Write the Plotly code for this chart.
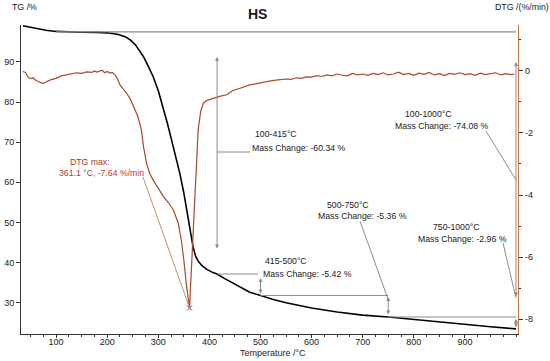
import plotly.graph_objects as go

# ---------------- data ----------------
T_tg = [35, 50, 65, 80, 100, 120, 150, 180, 200, 220, 235, 245, 255, 262, 271, 280, 290,
        300, 309, 318, 326, 334, 342, 350, 358, 363, 368, 373, 378, 385, 395, 407, 415,
        430, 446, 460, 479, 500, 525, 550, 575, 600, 650, 700, 750, 800, 850, 900, 950, 1000]
tg = [99.0, 98.6, 98.2, 97.9, 97.6, 97.45, 97.4, 97.35, 97.25, 96.9, 96.3, 95.5, 94.3, 93.0,
      91.3, 89.0, 86.3, 82.8, 78.9, 74.6, 70.5, 66.4, 62.3, 57.3, 51.4, 47.5, 43.9, 41.6,
      40.4, 39.3, 38.3, 37.5, 37.16, 36.0, 34.9, 33.8, 32.6, 31.8, 30.8, 30.0, 29.3, 28.7,
      27.7, 26.9, 26.44, 25.8, 25.2, 24.6, 24.0, 23.48]

T_dtg = [35, 40, 45, 50, 55, 60, 70, 75, 80, 90, 100, 110, 120, 130, 140, 150, 160, 170, 175,
         180, 190, 195, 200, 205, 210, 215, 220, 225, 230, 238, 245, 251, 260, 267, 271, 277,
         283, 290, 300, 310, 320, 330, 339, 345, 350, 355, 361.1, 365, 368, 372, 375, 378,
         383, 388, 395, 408, 420, 434, 445, 460, 470, 479, 490, 500, 510, 520, 530, 540, 550,
         560, 570, 580, 590, 600, 610, 620, 630, 640, 650, 660, 670, 680, 690, 700, 710, 720,
         730, 740, 750, 760, 770, 780, 790, 800, 810, 820, 830, 840, 850, 860, 870, 880, 890,
         900, 910, 920, 930, 940, 950, 960, 970, 980, 990, 997]
dtg = [-0.02, -0.05, -0.20, -0.25, -0.22, -0.30, -0.38, -0.40, -0.36, -0.28, -0.24, -0.16,
       -0.13, -0.10, -0.06, -0.08, -0.03, -0.05, 0.00, -0.04, 0.02, -0.06, -0.02, -0.07, -0.05,
       -0.12, -0.25, -0.45, -0.55, -0.72, -0.90, -1.15, -1.47, -1.90, -2.44, -2.98, -3.30,
       -3.52, -3.80, -4.05, -4.25, -4.50, -4.91, -5.45, -6.10, -6.90, -7.64, -6.40, -5.20,
       -4.05, -2.90, -1.90, -1.30, -1.04, -0.95, -0.88, -0.82, -0.77, -0.64, -0.56, -0.50,
       -0.45, -0.42, -0.38, -0.36, -0.32, -0.30, -0.28, -0.26, -0.27, -0.22, -0.24, -0.19,
       -0.20, -0.15, -0.18, -0.13, -0.16, -0.10, -0.14, -0.16, -0.08, -0.13, -0.10, -0.14,
       -0.08, -0.12, -0.06, -0.13, -0.10, -0.04, -0.12, -0.08, -0.14, -0.07, -0.11, -0.05,
       -0.13, -0.09, -0.15, -0.08, -0.11, -0.06, -0.12, -0.09, -0.14, -0.07, -0.12, -0.10,
       -0.06, -0.13, -0.09, -0.12, -0.10]

step_T = [100, 415, 500, 750, 1000]
step_TG = [97.5, 37.16, 31.8, 26.44, 23.48]
range_labels = ["100-415°C", "415-500°C", "500-750°C", "750-1000°C", "100-1000°C"]
mass_labels = ["Mass Change: -60.34 %", "Mass Change: -5.42 %", "Mass Change: -5.36 %",
               "Mass Change: -2.96 %", "Mass Change: -74.08 %"]
peak_T = 361.1
peak_dtg = -7.64
peak_labels = ["DTG max:", "361.1 °C, -7.64 %/min"]

x_ticks = [100, 200, 300, 400, 500, 600, 700, 800, 900]
y_ticks = [30, 40, 50, 60, 70, 80, 90]
y2_ticks = [-8, -6, -4, -2, 0]
y2_ticktext = ["-8", "-6", "-4", "-2", "0"]

# ---------------- layout geometry ----------------
W, H = 550, 361
X0, X1, Y0, Y1 = 21, 518, 25, 334
xr = [31.3, 1003.9]
yr = [22.2, 99.2]
y2r = [-8.48, 1.48]

def tx(px):
    return xr[0] + (px - X0) / (X1 - X0) * (xr[1] - xr[0])

def ty(py):
    return yr[0] + (Y1 - py) / (Y1 - Y0) * (yr[1] - yr[0])

def ty2(py):
    return y2r[0] + (Y1 - py) / (Y1 - Y0) * (y2r[1] - y2r[0])

FONT = "Liberation Sans, Arial, sans-serif"
GRAY = "#8c8c8c"
DTG_COL = "#a8482e"
AX_COL = "#333333"
RED_TXT = "#c0392b"

fig = go.Figure()
fig.add_trace(go.Scatter(x=T_tg, y=tg, mode="lines", line=dict(color="black", width=1.6),
                         yaxis="y", hoverinfo="skip", showlegend=False))
fig.add_trace(go.Scatter(x=T_dtg, y=dtg, mode="lines", line=dict(color=DTG_COL, width=1.2),
                         yaxis="y2", hoverinfo="skip", showlegend=False))
fig.add_trace(go.Scatter(x=[peak_T], y=[peak_dtg], mode="markers",
                         marker=dict(symbol="x-thin", size=5, line=dict(color="#555", width=1)),
                         yaxis="y2", hoverinfo="skip", showlegend=False))

shapes = []
def hline(x0, x1, y, color=GRAY, yref="y", w=1):
    shapes.append(dict(type="line", xref="x", yref=yref, x0=x0, x1=x1, y0=y, y1=y,
                       line=dict(color=color, width=w)))

def seg(x0, y0, x1, y1, color=GRAY, yref="y", w=1):
    shapes.append(dict(type="line", xref="x", yref=yref, x0=x0, x1=x1, y0=y0, y1=y1,
                       line=dict(color=color, width=w)))

# reference levels
hline(step_T[0], step_T[4], step_TG[0], w=1.3)
hline(step_T[1], tx(250), ty(152))
hline(step_T[1], tx(258), step_TG[1])
hline(step_T[2], step_T[3], step_TG[2])
hline(step_T[3], step_T[4], step_TG[3])
# leader lines
seg(tx(360), ty(221), tx(388), ty(299))
seg(tx(503), ty(243), step_T[4], ty(298))
seg(tx(486), ty(131), step_T[4], ty(180))
seg(tx(143), ty2(177), peak_T, peak_dtg, color="#c49070", yref="y2")

annotations = []
def darrow(xv, ytop, ybot, color=GRAY):
    annotations.append(dict(x=xv, y=ytop, ax=xv, ay=ybot, xref="x", yref="y", axref="x",
                            ayref="y", text="", showarrow=True, arrowhead=2,
                            arrowside="end+start", arrowsize=0.8, arrowwidth=1,
                            arrowcolor=color, standoff=0, startstandoff=0))

darrow(step_T[1], ty(57), ty(250))
darrow(step_T[2], ty(278), ty(295))
darrow(step_T[3], ty(297), ty(316))
darrow(step_T[4], ty(319), ty(329))
darrow(step_T[4], ty(62), ty(298), color="#b07a86")

def text(px, py, s, color="#1a1a1a", size=8.7, anchor="left"):
    annotations.append(dict(x=tx(px), y=ty(py), xref="x", yref="y", text=s, showarrow=False,
                            xanchor=anchor, yanchor="middle",
                            font=dict(family=FONT, size=size, color=color)))

text(253, 134, range_labels[0]); text(250, 147.5, mass_labels[0])
text(263, 261, range_labels[1]); text(261, 273.5, mass_labels[1])
text(325, 205, range_labels[2]); text(316, 216, mass_labels[2])
text(431, 227, range_labels[3]); text(416, 238.5, mass_labels[3])
text(403, 114, range_labels[4]); text(393, 125.5, mass_labels[4])
text(68, 162, peak_labels[0], color="#a0402c")
text(57, 172.5, peak_labels[1], color=RED_TXT)

def ptext(px, py, s, size=8.8, bold=False, anchor="left"):
    annotations.append(dict(x=(px - X0) / (X1 - X0), y=(Y1 - py) / (Y1 - Y0), xref="paper",
                            yref="paper", text=("<b>%s</b>" % s) if bold else s,
                            showarrow=False, xanchor=anchor, yanchor="middle",
                            font=dict(family=FONT, size=size, color="#1a1a1a")))

ptext(257, 14, "HS", size=14, bold=True, anchor="center")
ptext(10, 7, "TG /%")
ptext(493, 7, "DTG /(%/min)")
ptext(238, 353, "Temperature /°C", size=9)

tickfont = dict(family=FONT, size=9, color="#222")
fig.update_layout(
    width=W, height=H, autosize=False,
    margin=dict(l=X0, r=W - X1, t=Y0, b=H - Y1, pad=0),
    paper_bgcolor="white", plot_bgcolor="white",
    showlegend=False,
    xaxis=dict(range=xr, showline=True, linecolor=AX_COL, linewidth=1, ticks="outside",
               ticklen=3, tickcolor=AX_COL, tickvals=x_ticks, tickfont=tickfont,
               ticklabelstandoff=-4,
               minor=dict(ticks="outside", ticklen=2, dtick=25, tick0=0, tickcolor=AX_COL),
               showgrid=False, zeroline=False, automargin=False),
    yaxis=dict(range=yr, showline=True, linecolor=AX_COL, linewidth=1, ticks="outside",
               ticklen=4, tickcolor=AX_COL, tickvals=y_ticks, tickfont=tickfont,
               showgrid=False, zeroline=False, automargin=False),
    yaxis2=dict(range=y2r, overlaying="y", side="right", showline=True, linecolor="#c07a3e",
                linewidth=1.3, ticks="outside", ticklen=4, tickcolor=AX_COL,
                tickvals=y2_ticks, ticktext=y2_ticktext, tickfont=tickfont,
                minor=dict(ticks="outside", ticklen=2, dtick=1, tick0=0, tickcolor=AX_COL),
                showgrid=False, zeroline=False, automargin=False),
    shapes=shapes,
    annotations=annotations,
)

fig.write_html("out.html", config={"displayModeBar": False},
               post_script="document.body.style.margin='0';document.body.style.overflow='hidden';")
